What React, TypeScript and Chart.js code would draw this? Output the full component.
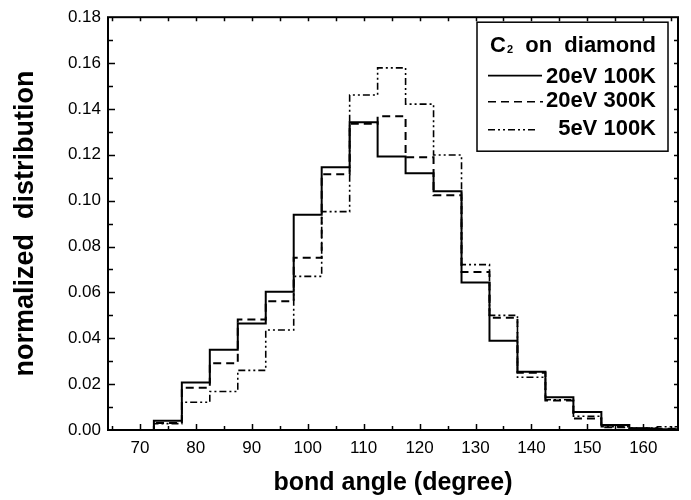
import React, { useEffect, useRef } from "react";
import { Chart, registerables } from "chart.js";

Chart.register(...registerables);

// bin centres (degrees), bin width 5
const binCenters = [65, 70, 75, 80, 85, 90, 95, 100, 105, 110, 115, 120, 125, 130, 135, 140, 145, 150, 155, 160, 165];
const series20eV100K = [0, 0, 0.0040, 0.0207, 0.0350, 0.0464, 0.0603, 0.0939, 0.1146, 0.1342, 0.1193, 0.1120, 0.1041, 0.0643, 0.0389, 0.0254, 0.0143, 0.0078, 0.0022, 0.0006, 0.0003];
const series20eV300K = [0, 0, 0.0030, 0.0184, 0.0291, 0.0482, 0.0561, 0.0751, 0.1115, 0.1335, 0.1368, 0.1189, 0.1024, 0.0689, 0.0490, 0.0250, 0.0129, 0.0050, 0.0012, 0.0008, 0.0005];
const series5eV100K = [0, 0, 0.0028, 0.0121, 0.0168, 0.0260, 0.0436, 0.0670, 0.0952, 0.1461, 0.1579, 0.1421, 0.1199, 0.0721, 0.0500, 0.0230, 0.0132, 0.0060, 0.0014, 0.0009, 0.0014];
const seriesLabels = ["20eV 100K", "20eV 300K", "5eV 100K"];
const legendTitle = "C";
const legendTitleSub = "2";
const legendTitleRest = "on  diamond";
const xTickLabels = [70, 80, 90, 100, 110, 120, 130, 140, 150, 160];
const yTickLabels = [0, 0.02, 0.04, 0.06, 0.08, 0.1, 0.12, 0.14, 0.16, 0.18];
const xTitle = "bond angle (degree)";
const yTitle = "normalized  distribution";

const BIN = 5;
const FONT = "'Liberation Sans', Arial, sans-serif";

// points at each bin's left edge, plus the last bin's right edge
function stepPoints(values: number[]) {
  const pts = values.map((v, i) => ({ x: binCenters[i] - BIN / 2, y: v }));
  pts.push({ x: binCenters[binCenters.length - 1] + BIN / 2, y: values[values.length - 1] });
  return pts;
}

const styles = [
  { dash: [] as number[], width: 2 },
  { dash: [8, 5], width: 2 },
  { dash: [7, 3, 2, 3, 2, 3], width: 1.6 },
];

const framePlugin = {
  id: "frameTicksLegend",
  afterDatasetsDraw(chart: any) {
    const { ctx, chartArea: a, scales } = chart;
    const xs = scales.x;
    const ys = scales.y;
    ctx.save();
    ctx.strokeStyle = "#000";
    ctx.lineWidth = 2;
    ctx.strokeRect(a.left, a.top, a.right - a.left, a.bottom - a.top);
    ctx.lineWidth = 1.5;
    for (let v = 65; v <= 165; v += 5) {
      const px = Math.round(xs.getPixelForValue(v)) + 0.5;
      if (px < a.left || px > a.right) continue;
      const major = v % 10 === 0;
      ctx.beginPath();
      ctx.moveTo(px, a.bottom);
      ctx.lineTo(px, a.bottom - (major ? 6 : 4));
      ctx.moveTo(px, a.top);
      ctx.lineTo(px, a.top + 4);
      ctx.stroke();
    }
    for (let k = 1; k < 18; k++) {
      const v = k / 100;
      const py = Math.round(ys.getPixelForValue(v)) + 0.5;
      const major = k % 2 === 0;
      ctx.beginPath();
      ctx.moveTo(a.left, py);
      ctx.lineTo(a.left + (major ? 7 : 5), py);
      ctx.moveTo(a.right, py);
      ctx.lineTo(a.right - 4, py);
      ctx.stroke();
    }
    // legend box
    const bx = a.right - 201;
    const by = a.top + 5;
    const bw = 191;
    const bh = 129;
    ctx.fillStyle = "#fff";
    ctx.fillRect(bx, by, bw, bh);
    ctx.lineWidth = 1.5;
    ctx.strokeRect(bx, by, bw, bh);
    ctx.fillStyle = "#000";
    ctx.textBaseline = "alphabetic";
    ctx.font = `bold 22px ${FONT}`;
    ctx.textAlign = "left";
    const tx = bx + 13;
    ctx.fillText(legendTitle, tx, by + 30);
    const cw = ctx.measureText(legendTitle).width;
    ctx.font = `bold 11px ${FONT}`;
    ctx.fillText(legendTitleSub, tx + cw + 1, by + 31);
    ctx.font = `bold 22px ${FONT}`;
    ctx.textAlign = "right";
    ctx.fillText(legendTitleRest, bx + bw - 12, by + 30);
    const textY = [by + 61, by + 85, by + 113];
    const lineY = [by + 53, by + 79, by + 107];
    const lineEnd = [65, 66, 61];
    seriesLabels.forEach((lab, i) => {
      ctx.font = `bold 22px ${FONT}`;
      ctx.textAlign = "right";
      ctx.fillText(lab, bx + bw - 12, textY[i]);
      ctx.beginPath();
      ctx.setLineDash(styles[i].dash);
      ctx.lineWidth = i === 0 ? 1.8 : 1.6;
      ctx.moveTo(bx + 11, lineY[i] + 0.5);
      ctx.lineTo(bx + lineEnd[i], lineY[i] + 0.5);
      ctx.stroke();
      ctx.setLineDash([]);
    });
    ctx.restore();
  },
};

export default function App() {
  const ref = useRef<HTMLCanvasElement | null>(null);
  useEffect(() => {
    if (!ref.current) return;
    const allSeries = [series20eV100K, series20eV300K, series5eV100K];
    const chart = new Chart(ref.current, {
      type: "line",
      data: {
        datasets: allSeries.map((s, i) => ({
          label: seriesLabels[i],
          data: stepPoints(s),
          borderColor: "#000",
          borderWidth: styles[i].width,
          borderDash: styles[i].dash,
          pointRadius: 0,
          fill: false,
          stepped: "before" as const,
        })),
      },
      options: {
        responsive: false,
        animation: false,
        events: [],
        layout: { padding: { top: 12, right: 13, left: 0, bottom: 0 } },
        plugins: { legend: { display: false }, tooltip: { enabled: false } },
        scales: {
          x: {
            type: "linear",
            min: 64.3,
            max: 166.2,
            afterBuildTicks: (s: any) => {
              s.ticks = xTickLabels.map((v) => ({ value: v }));
            },
            afterFit: (s: any) => {
              s.height = 70;
            },
            grid: { display: false, drawTicks: false },
            border: { display: false },
            ticks: {
              color: "#000",
              font: { family: FONT, size: 17 },
              padding: 8,
              maxRotation: 0,
              autoSkip: false,
              callback: (v: any) => String(v),
            },
            title: {
              display: true,
              text: xTitle,
              color: "#000",
              font: { family: FONT, size: 25, weight: "bold" },
              padding: { top: 0, bottom: 2 },
            },
          },
          y: {
            type: "linear",
            min: 0,
            max: 0.18,
            afterBuildTicks: (s: any) => {
              s.ticks = yTickLabels.map((v) => ({ value: v }));
            },
            afterFit: (s: any) => {
              s.width = 108;
            },
            grid: { display: false, drawTicks: false },
            border: { display: false },
            ticks: {
              color: "#000",
              font: { family: FONT, size: 17 },
              padding: 7,
              autoSkip: false,
              callback: (v: any) => Number(v).toFixed(2),
            },
            title: {
              display: true,
              text: yTitle,
              color: "#000",
              font: { family: FONT, size: 27, weight: "bold" },
              padding: { top: 9, bottom: 0 },
            },
          },
        },
      },
      plugins: [framePlugin],
    } as any);
    return () => chart.destroy();
  }, []);
  return (
    <div style={{ position: "absolute", left: 0, top: 0, width: 691, height: 500, background: "#fff" }}>
      <canvas ref={ref} width={691} height={500} />
    </div>
  );
}
